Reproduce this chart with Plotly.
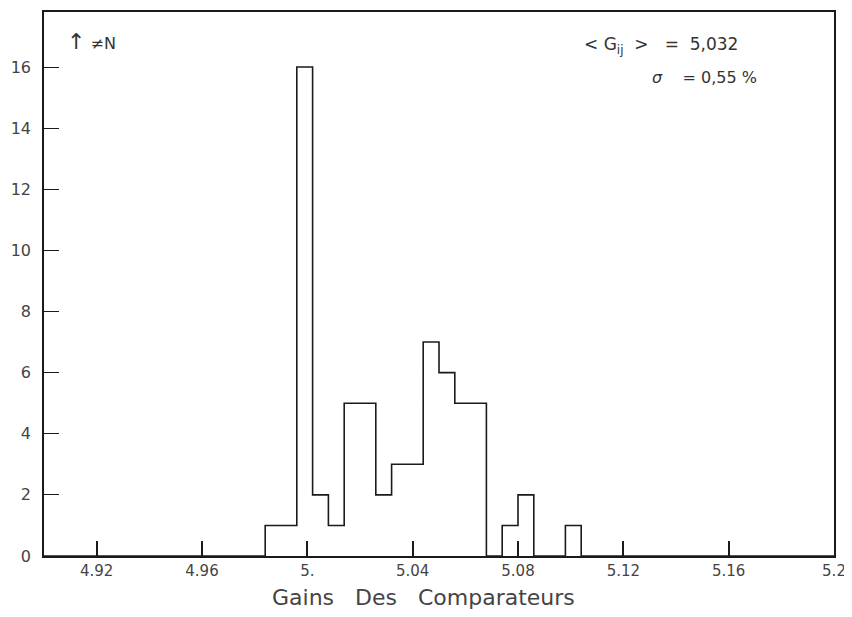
import plotly.graph_objects as go

# Histogram: 50 bins of width 0.006 from 4.90 to 5.20
bin_start = 4.9
bin_width = 0.006
counts = [0]*14 + [1, 1, 16, 2, 1, 5, 5, 2, 3, 3, 7, 6, 5, 5, 0, 1, 2, 0, 0, 1] + [0]*16

tick_vals = [4.92, 4.96, 5.0, 5.04, 5.08, 5.12, 5.16, 5.2]
tick_text = ["4.92", "4.96", "5.", "5.04", "5.08", "5.12", "5.16", "5.2"]
y_ticks = [0, 2, 4, 6, 8, 10, 12, 14, 16]

edges = [round(bin_start + i*bin_width, 6) for i in range(len(counts) + 1)]
ys = counts + [counts[-1]]

ink = "#1a1a1a"
txt = "#444444"
fig = go.Figure()
fig.add_trace(go.Scatter(x=edges, y=ys, mode="lines", line=dict(shape="hv", color=ink, width=1.6),
                         hoverinfo="skip", showlegend=False))

fig.update_layout(
    width=844, height=601,
    margin=dict(l=36, r=18, t=4, b=53),
    paper_bgcolor="white", plot_bgcolor="white",
    font=dict(family="DejaVu Sans", color=txt, size=15),
    xaxis=dict(range=[4.9, 5.2], tickvals=tick_vals, ticktext=tick_text, ticks="inside", ticklen=15,
               tickwidth=1.5, tickcolor=ink, showline=True, linecolor=ink, linewidth=1.6, mirror=True,
               showgrid=False, zeroline=False, automargin=False, tickfont=dict(size=15, color=txt)),
    yaxis=dict(range=[0, 17.8], tickvals=y_ticks, ticks="inside", ticklen=15, tickwidth=1.2,
               tickcolor=ink, showline=True, linecolor=ink, linewidth=1.6, mirror=True,
               showgrid=False, zeroline=False, automargin=False, ticklabelstandoff=8,
               tickfont=dict(size=16, color=txt)),
)

fig.add_annotation(xref="paper", yref="paper", x=0.481, y=-0.077, xanchor="center", yanchor="middle",
                   text="Gains   Des   Comparateurs", showarrow=False,
                   font=dict(size=22, color=txt, family="DejaVu Sans"))
fig.add_annotation(xref="paper", yref="paper", x=0.026, y=0.945, xanchor="left", yanchor="middle",
                   text="<span style='font-size:22px'>↑</span> ≠N", showarrow=False, font=dict(size=16, color="#333333"))
fig.add_annotation(xref="paper", yref="paper", x=0.681, y=0.939, xanchor="left", yanchor="middle",
                   text="&lt; G<sub>ij</sub>  &gt;   =  5,032", showarrow=False, font=dict(size=17, color="#333333"))
fig.add_annotation(xref="paper", yref="paper", x=0.767, y=0.880, xanchor="left", yanchor="middle",
                   text="<i>σ</i>    = 0,55 %", showarrow=False, font=dict(size=16, color="#333333"))

fig.write_html("out.html")
